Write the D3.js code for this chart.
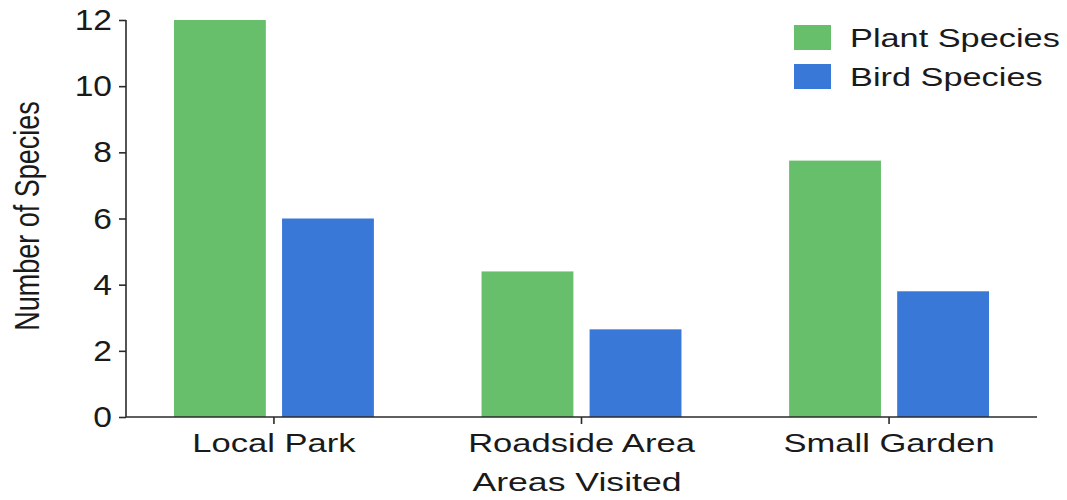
<!DOCTYPE html>
<html>
<head>
<meta charset="utf-8">
<script src="https://cdn.jsdelivr.net/npm/d3@7"></script>
<style>
  body { margin: 0; background: #fff; }
  text { font-family: "Liberation Sans", Arial, sans-serif; fill: #1a1a1a; }
</style>
</head>
<body>
<svg id="chart"></svg>
<script>
// data
const categories = ["Local Park", "Roadside Area", "Small Garden"];
const seriesNames = ["Plant Species", "Bird Species"];
const plantValues = [12, 4.4, 7.75];
const birdValues = [6, 2.65, 3.8];
const yTicks = [0, 2, 4, 6, 8, 10, 12];
const seriesColors = ["#67bf6b", "#3a78d8"];

const width = 1067, height = 500;
const plotLeft = 126, plotRight = 1037, plotTop = 20, plotBottom = 417;

const svg = d3.select("#chart")
  .attr("width", width)
  .attr("height", height);

const rows = categories.map((c, i) => ({ cat: c, vals: [plantValues[i], birdValues[i]] }));

const x0 = d3.scaleBand()
  .domain(categories)
  .range([plotLeft, plotRight])
  .paddingInner(0.35)
  .paddingOuter(0.156);

const x1 = d3.scaleBand()
  .domain(seriesNames)
  .range([0, x0.bandwidth()])
  .paddingInner(0.15);

const y = d3.scaleLinear()
  .domain([0, 12])
  .range([plotBottom, plotTop]);

const color = d3.scaleOrdinal()
  .domain(seriesNames)
  .range(seriesColors);

// bars
svg.append("g")
  .selectAll("g")
  .data(rows)
  .enter()
  .append("g")
  .attr("transform", d => "translate(" + x0(d.cat) + ",0)")
  .selectAll("rect")
  .data(d => seriesNames.map((s, j) => ({ key: s, value: d.vals[j] })))
  .enter()
  .append("rect")
  .attr("x", d => x1(d.key))
  .attr("y", d => y(d.value))
  .attr("width", x1.bandwidth())
  .attr("height", d => plotBottom - y(d.value))
  .attr("fill", d => color(d.key));

// y axis
const yAxis = svg.append("g")
  .attr("transform", "translate(" + plotLeft + ",0)")
  .call(d3.axisLeft(y).tickValues(yTicks).tickSize(7).tickPadding(8));

yAxis.selectAll("text")
  .style("font-size", "30px")
  .attr("transform", "translate(-14,0) scale(1.12,1)")
  .attr("x", 0);

// x axis
const xAxis = svg.append("g")
  .attr("transform", "translate(0," + plotBottom + ")")
  .call(d3.axisBottom(x0).tickSize(7).tickPadding(10).tickSizeOuter(0));

xAxis.selectAll("text")
  .style("font-size", "26px")
  .attr("transform", "scale(1.33,1)");

svg.selectAll(".domain, .tick line")
  .attr("stroke", "#2a2a2a")
  .attr("stroke-width", 1.6);
xAxis.select(".domain").attr("d", "M" + plotLeft + ",0H" + plotRight);
yAxis.select(".domain").attr("d", "M0," + plotTop + "V" + plotBottom);

// axis titles
svg.append("text")
  .attr("transform", "translate(577,491) scale(1.37,1)")
  .attr("text-anchor", "middle")
  .style("font-size", "26px")
  .text("Areas Visited");

svg.append("text")
  .attr("transform", "translate(39,216) rotate(-90) scale(1,1.3)")
  .attr("text-anchor", "middle")
  .style("font-size", "27px")
  .text("Number of Species");

// legend
const legend = svg.append("g")
  .selectAll("g")
  .data(seriesNames)
  .enter()
  .append("g")
  .attr("transform", (d, i) => "translate(794," + (25 + i * 39) + ")");

legend.append("rect")
  .attr("width", 37)
  .attr("height", 25)
  .attr("fill", d => color(d));

legend.append("text")
  .attr("transform", "translate(56,22) scale(1.32,1)")
  .style("font-size", "26px")
  .text(d => d);
</script>
</body>
</html>
